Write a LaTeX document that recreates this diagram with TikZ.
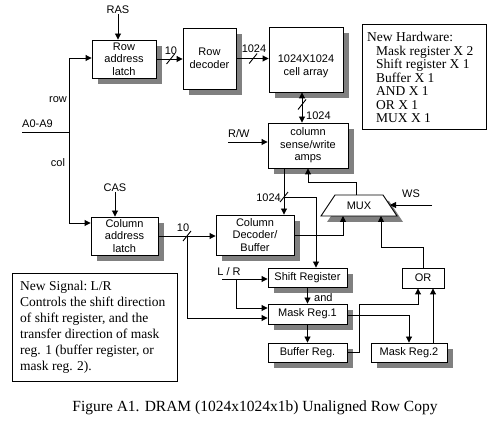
\documentclass[tikz,border=0pt]{standalone}
\usepackage{fontspec}
\setmainfont{Liberation Serif}
\setsansfont{Liberation Sans}
\usetikzlibrary{arrows.meta,shadows,calc}
\newcommand\myslash[1]{\draw[ln] ([xshift=-4pt,yshift=-5pt]#1) -- ([xshift=4pt,yshift=5pt]#1);}
\begin{document}
\begin{tikzpicture}[x=1pt,y=-1pt,
  ln/.style={line width=0.9pt},
  arr/.style={line width=0.9pt,-{Triangle[length=6pt,width=6pt]}},
  dbl/.style={line width=0.9pt,{Triangle[length=6pt,width=6pt]}-{Triangle[length=6pt,width=6pt]}},
  sans/.style={font=\sffamily\fontsize{11}{12.5}\selectfont},
  lbl/.style={sans,inner sep=0pt},
  blk/.style={draw,fill=white,line width=0.9pt,align=center,sans,inner sep=0pt,
    drop shadow={shadow xshift=6pt,shadow yshift=-6pt,opacity=1,fill=black!50}},
  note/.style={font=\rmfamily\fontsize{13.5}{13.5}\selectfont,align=left,inner sep=0pt},
  note2/.style={font=\rmfamily\fontsize{13.5}{16}\selectfont,align=left,inner sep=0pt}]
\useasboundingbox[fill=white] (0,0) rectangle (498,427);

% blocks
\node[blk,minimum width=64pt,minimum height=38pt] (rowlatch) at (124,59) {Row\\address\\latch};
\node[blk,minimum width=53pt,minimum height=61pt] (rowdec) at (209.5,58.5) {Row\\decoder};
\node[blk,minimum width=74pt,minimum height=65pt] (cell) at (306,59.5) {};
\node[lbl,align=center] (celltext) at ([yshift=-7pt]cell.center) {1024X1024\\cell array};
\node[blk,minimum width=80pt,minimum height=45pt] (sense) at (308,145.5) {column\\sense/write\\amps};
\node[blk,minimum width=67pt,minimum height=38pt] (collatch) at (124.5,236) {Column\\address\\latch};
\node[blk,minimum width=78pt,minimum height=40pt] (coldec) at (255,235) {Column\\Decoder/\\Buffer};
\node[blk,minimum width=79pt,minimum height=19pt] (shift) at (307.5,277.5) {Shift Register};
\node[blk,minimum width=79pt,minimum height=20pt] (mask1) at (307.5,314) {Mask Reg.1};
\node[blk,minimum width=79pt,minimum height=19pt] (buf) at (307.5,352.5) {Buffer Reg.};
\node[blk,minimum width=76pt,minimum height=19pt] (mask2) at (409,352.5) {Mask Reg.2};
\node[draw,fill=white,line width=0.9pt,sans,inner sep=0pt,minimum width=42pt,minimum height=20pt] (or) at (423,278) {OR};

% MUX
\fill[black!50] (327,222) -- (341,201) -- (389,201) -- (403,222) -- cycle;
\draw[ln,fill=white] (321,216) -- (335,195) -- (383,195) -- (397,216) -- cycle;
\node[lbl] (mux) at (359,206) {MUX};
\coordinate (muxtop) at (356,195);
\coordinate (muxr) at (390,205);
\coordinate (muxb1) at (343,216);
\coordinate (muxb2) at (381,216);

% RAS
\node[lbl] (ras) at (118,10) {RAS};
\draw[arr] (ras.south) -- (ras.south |- rowlatch.north);

% row latch -> row decoder
\draw[arr] (rowlatch.east) -- coordinate[pos=.54] (s1) (rowlatch.east -| rowdec.west);
\myslash{s1}
\node[lbl] (l10a) at (171,51) {10};

% row decoder -> cell
\draw[arr] (rowdec.east) -- coordinate[pos=.52] (s2) (rowdec.east -| cell.west);
\myslash{s2}
\node[lbl] (l1024a) at (254,49) {1024};

% cell <-> sense
\draw[dbl] ([xshift=-4pt]cell.south) -- coordinate[pos=.4] (s3) ([xshift=-4pt]cell.south |- sense.north);
\myslash{s3}
\node[lbl,anchor=west] (l1024b) at (306,116) {1024};

% R/W
\node[lbl,anchor=west] (rw) at (228,134) {R/W};
\coordinate (rwin) at (228,142);
\draw[arr] (rwin) -- (rwin -| sense.west);

% address
\node[lbl,anchor=west] (addr) at (22,124) {A0-A9};
\coordinate (a0) at (22,132);
\coordinate (split) at (69,132);
\draw[ln] (a0) -- (split);
\draw[arr] (split) |- ([yshift=1pt]rowlatch.west);
\draw[arr] (split) |- ([yshift=13pt]collatch.west);
\node[lbl] (rowl) at (58,100) {row};
\node[lbl] (coll) at (58,163) {col};

% CAS
\node[lbl] (cas) at (115,188) {CAS};
\draw[arr] (cas.south) -- (cas.south |- collatch.north);

% column latch -> column decoder
\draw[arr] (collatch.east) -- coordinate[pos=.5] (tap10) (collatch.east -| coldec.west);
\myslash{tap10}
\node[lbl] (l10b) at (183,228) {10};
\draw[arr] (tap10) |- ([yshift=-4pt]mask1.west);

% sense -> column decoder, branch to shift register
\coordinate (sbot) at ([xshift=-24pt]sense.south);
\draw[arr] (sbot) -- coordinate[pos=.62] (s4) (sbot |- coldec.north);
\myslash{s4}
\node[lbl,anchor=east] (l1024c) at (281,198) {1024};
\draw[arr] (s4) -| ([xshift=8.5pt]shift.north);

% MUX connections
\draw[arr] (muxtop) -- ++(0,-13) -| (sense.south);
\node[lbl,anchor=west] (ws) at (402,194) {WS};
\coordinate (wsin) at (432,205);
\draw[arr] (wsin) -- (muxr);
\draw[arr] (coldec.east) -| (muxb1);
\draw[arr] (or.north) -- ++(0,-20) -| (muxb2);

% registers
\draw[arr] (shift.south) -- (mask1.north);
\node[lbl,anchor=west] (andl) at (314,298) {and};
\draw[arr] (mask1.south) -- (buf.north);
\draw[arr] ([yshift=-1pt]mask1.east) -| (mask2.north);
\coordinate (bufor) at (359,304);
\draw[arr] (buf.east) -| (bufor) -| ([xshift=-5pt]or.south);
\draw[arr] ([xshift=24pt]mask2.north) -- ([xshift=24pt]mask2.north |- or.south);

% L/R
\node[lbl] (lr) at (229,272) {L / R};
\coordinate (lrin) at (222,279);
\draw[arr] (lrin) -- (lrin -| shift.west);
\coordinate (lrtap) at (236,279);
\draw[arr] (lrtap) |- ([yshift=6pt]mask1.west);

% notes
\node[draw,line width=0.9pt,minimum width=124pt,minimum height=105pt,inner sep=0pt] (hw) at (424,76.5) {};
\node[note,anchor=north west] (hwtext) at (367,32) {New Hardware:\\\hspace*{9pt}Mask register X 2\\\hspace*{9pt}Shift register X 1\\\hspace*{9pt}Buffer X 1\\\hspace*{9pt}AND X 1\\\hspace*{9pt}OR X 1\\\hspace*{9pt}MUX X 1};

\node[draw,line width=0.9pt,minimum width=165pt,minimum height=108pt,inner sep=0pt] (sig) at (94.5,327) {};
\node[note2,anchor=north west] (sigtext) at (20,281) {New Signal:\ L/R\\Controls the shift direction\\of shift register, and the\\transfer direction of mask\\reg. 1 (buffer register, or\\mask reg. 2).};

\node[font=\rmfamily\fontsize{15.5}{18}\selectfont,inner sep=0pt] (cap) at (255,408) {Figure A1. DRAM (1024x1024x1b) Unaligned Row Copy};
\end{tikzpicture}
\end{document}
